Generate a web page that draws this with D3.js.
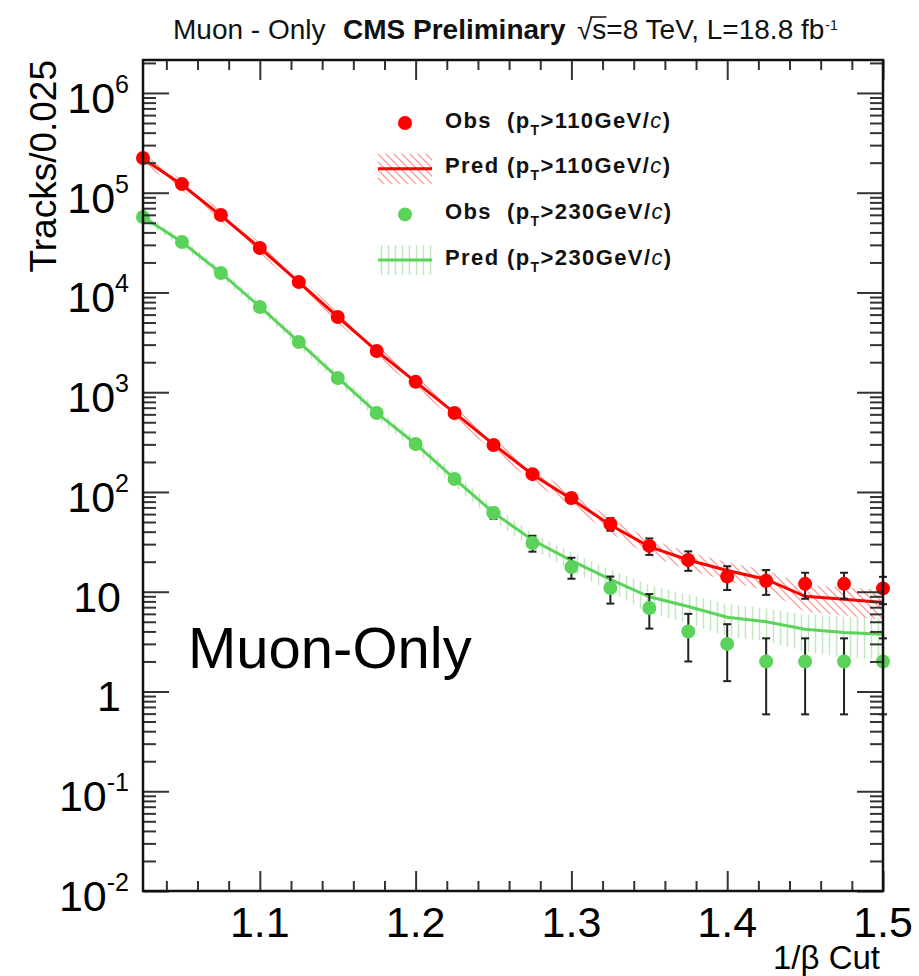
<!DOCTYPE html>
<html><head><meta charset="utf-8">
<script src="https://cdn.jsdelivr.net/npm/d3@7"></script>
<style>
body{margin:0;background:#fff}
svg{display:block}
text{font-family:"Liberation Sans",Arial,Helvetica,sans-serif}
</style></head>
<body><svg id="c" width="919" height="976"></svg>
<script>
// ---------------- data ----------------
const xCuts = [1.025,1.05,1.075,1.1,1.125,1.15,1.175,1.2,1.225,1.25,1.275,1.3,1.325,1.35,1.375,1.4,1.425,1.45,1.475,1.5];
const obs110    = [2.23e5,1.22e5,5.98e4,2.79e4,1.27e4,5680,2590,1270,620,296,151,87,47.8,28.8,20.8,14.2,12.9,12.0,12.0,10.8];
const obs110Err = [472,349,245,167,113,75,51,36,25,17.2,12.3,9.3,6.9,5.4,4.6,3.8,3.6,3.5,3.5,3.3];
const pred110    = [2.2e5,1.2e5,5.9e4,2.8e4,1.27e4,5700,2600,1270,620,300,150,85,46.7,28.3,20.8,16.3,13.3,9.0,8.4,7.8];
const pred110Err = [2.6e4,1.45e4,7.2e3,3.5e3,1.6e3,740,350,175,88,44,23,14,8,5.3,4.2,3.5,3.1,2.7,2.6,2.6];
const obs230    = [5.71e4,3.21e4,1.57e4,7160,3190,1390,620,303,135,61.6,30.8,17.7,10.9,6.87,4,3,2,2,2,2];
const obs230Err = [239,179,125,85,56,37,25,17.4,11.6,7.8,5.6,4.2,3.3,2.6,2.0,1.73,1.41,1.41,1.41,1.41];
const pred230    = [5.7e4,3.2e4,1.57e4,7200,3200,1400,620,303,135,62,33,20.5,13.3,8.9,7.1,5.55,5.0,4.2,3.9,3.74];
const pred230Err = [5.7e3,3.3e3,1.7e3,800,370,170,80,42,20,10.5,6,4.2,3.3,2.8,2.3,2.0,1.8,1.7,1.7,1.7];

const xMajorTicks = [1.1,1.2,1.3,1.4,1.5];
const xTickLabels = ["1.1","1.2","1.3","1.4","1.5"];
const yDecades = [-2,-1,0,1,2,3,4,5,6];

const legendEntries = [
  {kind:"obs",  word:"Obs",  cut:"110", color:"#ff0000"},
  {kind:"pred", word:"Pred", cut:"110", color:"#ff0000"},
  {kind:"obs",  word:"Obs",  cut:"230", color:"#5bd35b"},
  {kind:"pred", word:"Pred", cut:"230", color:"#5bd35b"}
];

// ---------------- layout ----------------
const RED = "#ff0000", GREEN = "#5bd35b";
const M = {left:143, right:883, top:60, bottom:891};
const svg = d3.select("#c");
svg.append("rect").attr("width",919).attr("height",976).attr("fill","#fff");

const x = d3.scaleLinear().domain([1.025,1.5]).range([M.left,M.right]);
const y = d3.scaleLog().domain([0.01,2.14e6]).range([M.bottom,M.top]);

// patterns
const defs = svg.append("defs");
defs.append("pattern").attr("id","hatchR").attr("patternUnits","userSpaceOnUse")
  .attr("width",8).attr("height",8)
  .append("path").attr("d","M-1,-1L9,9M-1,7L1,9M7,-1L9,1")
  .attr("stroke","#ff9a9a").attr("stroke-width",1.3).attr("fill","none");
defs.append("pattern").attr("id","hatchG").attr("patternUnits","userSpaceOnUse")
  .attr("width",7).attr("height",7)
  .append("path").attr("d","M3.5,0V7")
  .attr("stroke","#bde9bd").attr("stroke-width",1.5).attr("fill","none");

function rows(v, e){ return xCuts.map((c,i)=>({x:c, v:v[i], e:e[i]})); }

const area = d3.area().x(d=>x(d.x)).y0(d=>y(Math.max(d.v-d.e,0.011))).y1(d=>y(d.v+d.e));
const line = d3.line().x(d=>x(d.x)).y(d=>y(d.v));

const plot = svg.append("g");
plot.append("path").datum(rows(pred230,pred230Err)).attr("d",area).attr("fill","url(#hatchG)");
plot.append("path").datum(rows(pred110,pred110Err)).attr("d",area).attr("fill","url(#hatchR)");
plot.append("path").datum(rows(pred230,pred230Err)).attr("d",line).attr("fill","none")
  .attr("stroke",GREEN).attr("stroke-width",3);
plot.append("path").datum(rows(pred110,pred110Err)).attr("d",line).attr("fill","none")
  .attr("stroke",RED).attr("stroke-width",3);

function drawObs(v, e, color){
  const d = rows(v,e);
  const g = plot.append("g");
  const eb = g.selectAll("g.eb").data(d).enter().append("g").attr("stroke","#222").attr("stroke-width",2);
  eb.append("line").attr("x1",d=>x(d.x)).attr("x2",d=>x(d.x))
    .attr("y1",d=>y(d.v+d.e)).attr("y2",d=>y(Math.max(d.v-d.e,0.011)));
  eb.append("line").attr("x1",d=>x(d.x)-4).attr("x2",d=>x(d.x)+4)
    .attr("y1",d=>y(d.v+d.e)).attr("y2",d=>y(d.v+d.e));
  eb.append("line").attr("x1",d=>x(d.x)-4).attr("x2",d=>x(d.x)+4)
    .attr("y1",d=>y(Math.max(d.v-d.e,0.011))).attr("y2",d=>y(Math.max(d.v-d.e,0.011)));
  g.selectAll("circle").data(d).enter().append("circle")
    .attr("cx",d=>x(d.x)).attr("cy",d=>y(d.v)).attr("r",7).attr("fill",color);
}
drawObs(obs230,obs230Err,GREEN);
drawObs(obs110,obs110Err,RED);

// ---------------- axes / ticks ----------------
const xMinor = d3.range(1.04,1.4901,0.02).filter(t=>!xMajorTicks.some(m=>Math.abs(m-t)<1e-6));
const yMajor = yDecades.map(d=>Math.pow(10,d));
const yMinor = [];
yDecades.forEach(d=>{ for(let k=2;k<=9;k++){ const v=k*Math.pow(10,d); if(v<2.14e6) yMinor.push(v);} });

function styleAxis(g){
  g.select(".domain").remove();
  g.selectAll(".tick line").attr("stroke","#333").attr("stroke-width",2);
  g.selectAll(".tick text").remove();
}
const ax = svg.append("g");
ax.append("g").attr("transform",`translate(0,${M.bottom})`).call(d3.axisBottom(x).tickValues(xMajorTicks).tickSize(-20).tickFormat("")).call(styleAxis);
ax.append("g").attr("transform",`translate(0,${M.bottom})`).call(d3.axisBottom(x).tickValues(xMinor).tickSize(-10).tickFormat("")).call(styleAxis);
ax.append("g").attr("transform",`translate(0,${M.top})`).call(d3.axisTop(x).tickValues(xMajorTicks).tickSize(-20).tickFormat("")).call(styleAxis);
ax.append("g").attr("transform",`translate(0,${M.top})`).call(d3.axisTop(x).tickValues(xMinor).tickSize(-10).tickFormat("")).call(styleAxis);
ax.append("g").attr("transform",`translate(${M.left},0)`).call(d3.axisLeft(y).tickValues(yMajor).tickSize(-26).tickFormat("")).call(styleAxis);
ax.append("g").attr("transform",`translate(${M.left},0)`).call(d3.axisLeft(y).tickValues(yMinor).tickSize(-13).tickFormat("")).call(styleAxis);
ax.append("g").attr("transform",`translate(${M.right},0)`).call(d3.axisRight(y).tickValues(yMajor).tickSize(-26).tickFormat("")).call(styleAxis);
ax.append("g").attr("transform",`translate(${M.right},0)`).call(d3.axisRight(y).tickValues(yMinor).tickSize(-13).tickFormat("")).call(styleAxis);

svg.append("rect").attr("x",M.left).attr("y",M.top).attr("width",M.right-M.left).attr("height",M.bottom-M.top)
  .attr("fill","none").attr("stroke","#111").attr("stroke-width",2.5);

// x tick labels
svg.append("g").selectAll("text").data(xMajorTicks).enter().append("text")
  .attr("x",d=>x(d)).attr("y",937).attr("text-anchor","middle").attr("font-size",43).attr("fill","#000")
  .text((d,i)=>xTickLabels[i]);

// y tick labels
yDecades.forEach(d=>{
  const v = Math.pow(10,d), ty = y(v);
  if(d===0 || d===1){
    svg.append("text").attr("x",121).attr("y",ty+20).attr("text-anchor","end")
      .attr("font-size",43).text(d===0?"1":"10");
  } else {
    const t = svg.append("text").attr("x",129).attr("y",ty+20).attr("text-anchor","end").attr("font-size",43);
    t.append("tspan").text("10");
    t.append("tspan").attr("font-size",25).attr("dy",-20).text(String(d));
  }
});

// axis titles
svg.append("text").attr("x",880).attr("y",969).attr("text-anchor","end").attr("font-size",33).text("1/β Cut");
svg.append("text").attr("transform","translate(56,60) rotate(-90)").attr("text-anchor","end")
  .attr("font-size",37).text("Tracks/0.025");

// header
(function(){
  const base = 39;
  const parts = [
    {t:"Muon - Only", x:173, w:"normal"},
    {t:"CMS Preliminary", x:343, w:"bold"},
    {t:"√s=8 TeV, L=18.8 fb", x:577, w:"normal"}
  ];
  let lastEnd = 0, lastEl = null, lastX = 0;
  parts.forEach(p=>{
    const el = svg.append("text").attr("x",p.x).attr("y",base).attr("font-size",28)
      .attr("font-weight",p.w).attr("fill","#111").text(p.t);
    lastEnd = p.x + el.node().getComputedTextLength();
    lastEl = el; lastX = p.x;
  });
  const n = lastEl.node();
  const wRoot = n.getSubStringLength(0,1), wS = n.getSubStringLength(1,1);
  svg.append("line").attr("x1",lastX+wRoot-2).attr("x2",lastX+wRoot+wS).attr("y1",base-22).attr("y2",base-22)
    .attr("stroke","#111").attr("stroke-width",1.5);
  svg.append("text").attr("x",lastEnd+1).attr("y",30).attr("font-size",14).attr("fill","#111").text("-1");
})();

// Muon-Only label
svg.append("text").attr("x",188).attr("y",668).attr("font-size",58).attr("fill","#000").text("Muon-Only");

// legend
const lg = svg.append("g");
legendEntries.forEach((e,i)=>{
  const cy = 123 + i*45.7;
  if(e.kind==="obs"){
    lg.append("circle").attr("cx",405).attr("cy",cy).attr("r",7).attr("fill",e.color);
  } else {
    lg.append("rect").attr("x",378).attr("y",cy-15).attr("width",54).attr("height",30)
      .attr("fill", e.color===RED ? "url(#hatchR)" : "url(#hatchG)");
    lg.append("line").attr("x1",378).attr("x2",432).attr("y1",cy).attr("y2",cy)
      .attr("stroke",e.color).attr("stroke-width",3);
  }
  const t = lg.append("text").attr("x",445).attr("y",cy+4.5).attr("font-size",22)
    .attr("font-weight","bold").attr("letter-spacing",1.4).attr("fill","#111").attr("xml:space","preserve");
  t.append("tspan").text(e.word + (e.kind==="obs"?"  (p":" (p"));
  t.append("tspan").attr("font-size",14).attr("dy",7).text("T");
  t.append("tspan").attr("dy",-7).text(">"+e.cut+"GeV/");
  t.append("tspan").attr("font-style","italic").attr("font-weight","normal").text("c");
  t.append("tspan").text(")");
});
</script>
</body></html>
